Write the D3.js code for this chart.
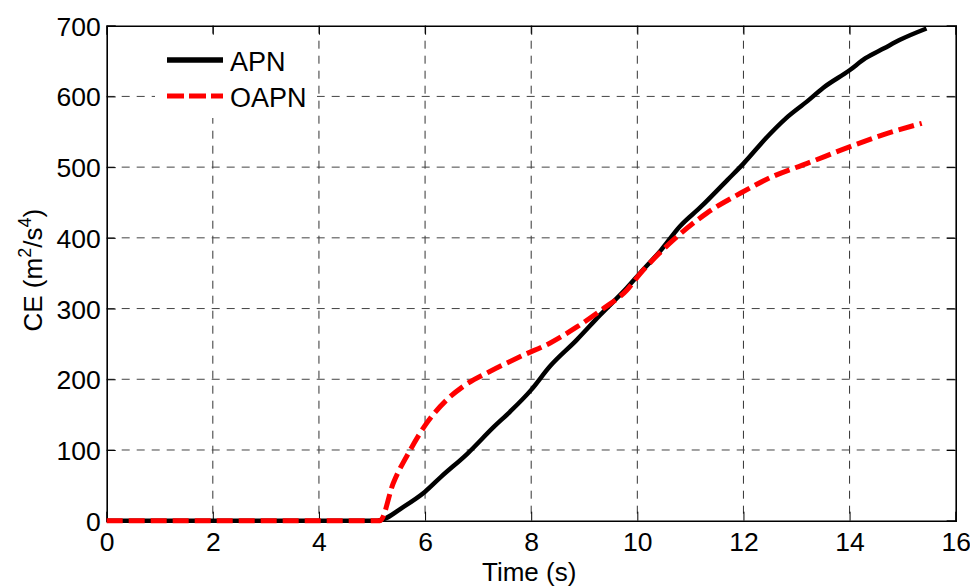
<!DOCTYPE html>
<html>
<head>
<meta charset="utf-8">
<script src="https://cdn.jsdelivr.net/npm/d3@7"></script>
<style>
  body { margin: 0; background: #fff; }
  svg { display: block; }
  text { font-family: "Liberation Sans", Arial, sans-serif; fill: #000; }
</style>
</head>
<body>
<svg id="chart" width="970" height="587"></svg>
<script>
const xTicks = [0, 2, 4, 6, 8, 10, 12, 14, 16];
const yTicks = [0, 100, 200, 300, 400, 500, 600, 700];

const apnTime = [0, 5.1, 5.6, 6.0, 6.3, 6.8, 7.3, 7.6, 8.0, 8.35, 8.85, 9.3, 9.8, 10.05, 10.45, 10.8, 11.2, 11.7, 12.0, 12.45, 12.8, 13.2, 13.5, 14.0, 14.3, 14.65, 14.95, 15.45];
const apnValues = [0, 0, 20, 41, 62, 95, 133, 154, 185, 218, 255, 291, 329, 350, 383, 416, 444, 482, 505, 543, 569, 593, 612, 637, 654, 668, 680, 696];

const oapnTime = [0, 5.15, 5.4, 5.72, 6.03, 6.41, 6.72, 7.22, 7.85, 8.35, 8.86, 9.36, 9.8, 10.05, 10.68, 11.31, 11.94, 12.56, 13.19, 14.01, 14.64, 15.36];
const oapnValues = [0, 0, 53, 100, 138, 171, 190, 211, 234, 251, 274, 300, 326, 349, 397, 435, 463, 487, 505, 529, 546, 562];

const seriesNames = ["APN", "OAPN"];

const svg = d3.select("#chart");
const L = 106.7, R = 955.7, T = 25.7, B = 520.7;

const x = d3.scaleLinear().domain([0, 16]).range([L, R]);
const y = d3.scaleLinear().domain([0, 700]).range([B, T]);

// grid
const grid = svg.append("g");
grid.selectAll(".gx").data(xTicks.filter(d => d > 0 && d < 16)).enter().append("line")
  .attr("x1", d => x(d)).attr("x2", d => x(d)).attr("y1", T).attr("y2", B)
  .attr("stroke", "#333").attr("stroke-width", 1).attr("stroke-dasharray", "8,7");
grid.selectAll(".gy").data(yTicks.filter(d => d > 0 && d < 700)).enter().append("line")
  .attr("x1", L).attr("x2", R).attr("y1", d => y(d)).attr("y2", d => y(d))
  .attr("stroke", "#444").attr("stroke-width", 1).attr("stroke-dasharray", "8,7");

// axes
const xAxis = svg.append("g").attr("transform", `translate(0,${B})`)
  .call(d3.axisBottom(x).tickValues(xTicks).tickSize(-9).tickPadding(14).tickFormat(d3.format("d")));
const xAxisTop = svg.append("g").attr("transform", `translate(0,${T})`)
  .call(d3.axisTop(x).tickValues(xTicks).tickSize(-9).tickFormat(""));
const yAxis = svg.append("g").attr("transform", `translate(${L},0)`)
  .call(d3.axisLeft(y).tickValues(yTicks).tickSize(-9).tickPadding(7).tickFormat(d3.format("d")));
const yAxisR = svg.append("g").attr("transform", `translate(${R},0)`)
  .call(d3.axisRight(y).tickValues(yTicks).tickSize(-9).tickFormat(""));

[xAxis, xAxisTop, yAxis, yAxisR].forEach(g => {
  g.select(".domain").attr("stroke", "#000").attr("stroke-width", 1.6);
  g.selectAll(".tick line").attr("stroke", "#000").attr("stroke-width", 1);
  g.selectAll(".tick text").style("font-size", "26.5px").style("font-family", '"Liberation Sans", Arial, sans-serif').attr("fill", "#000");
});
xAxis.selectAll(".tick text").attr("dy", "0.71em").attr("y", 11);
yAxis.selectAll(".tick text").attr("x", -6).attr("dy", "0.36em");

// lines
const line = d3.line().x(d => x(d[0])).y(d => y(d[1])).curve(d3.curveMonotoneX);
const apnData = apnTime.map((t, i) => [t, apnValues[i]]);
const oapnData = oapnTime.map((t, i) => [t, oapnValues[i]]);

svg.append("path").datum(apnData).attr("d", line)
  .attr("fill", "none").attr("stroke", "#000").attr("stroke-width", 4.5).attr("stroke-linejoin", "round");
svg.append("path").datum(oapnData).attr("d", line)
  .attr("fill", "none").attr("stroke", "#ff0000").attr("stroke-width", 5).attr("stroke-dasharray", "16,6");

// legend (white box, no border)
const legend = svg.append("g");
legend.append("rect").attr("x", 155).attr("y", 37).attr("width", 162).attr("height", 81).attr("fill", "#fff");
const legY = [60, 96];
legend.append("line").attr("x1", 167).attr("x2", 223).attr("y1", legY[0]).attr("y2", legY[0])
  .attr("stroke", "#000").attr("stroke-width", 5.5);
legend.append("line").attr("x1", 167).attr("x2", 223).attr("y1", legY[1]).attr("y2", legY[1])
  .attr("stroke", "#ff0000").attr("stroke-width", 5).attr("stroke-dasharray", "17,5");
seriesNames.forEach((n, i) => {
  legend.append("text").attr("x", 230).attr("y", legY[i] + 1).attr("dy", "0.36em")
    .style("font-size", "27px").text(n);
});

// axis labels
svg.append("text").attr("x", (L + R) / 2 - 2).attr("y", 581).attr("text-anchor", "middle")
  .style("font-size", "26px").text("Time (s)");

const yl = svg.append("text").attr("transform", `translate(42,${(T + B) / 2 - 3}) rotate(-90)`)
  .attr("text-anchor", "middle").style("font-size", "26px");
yl.append("tspan").text("CE (m");
yl.append("tspan").attr("dy", -11).style("font-size", "18px").text("2");
yl.append("tspan").attr("dy", 11).text("/s");
yl.append("tspan").attr("dy", -11).style("font-size", "18px").text("4");
yl.append("tspan").attr("dy", 11).text(")");
</script>
</body>
</html>
